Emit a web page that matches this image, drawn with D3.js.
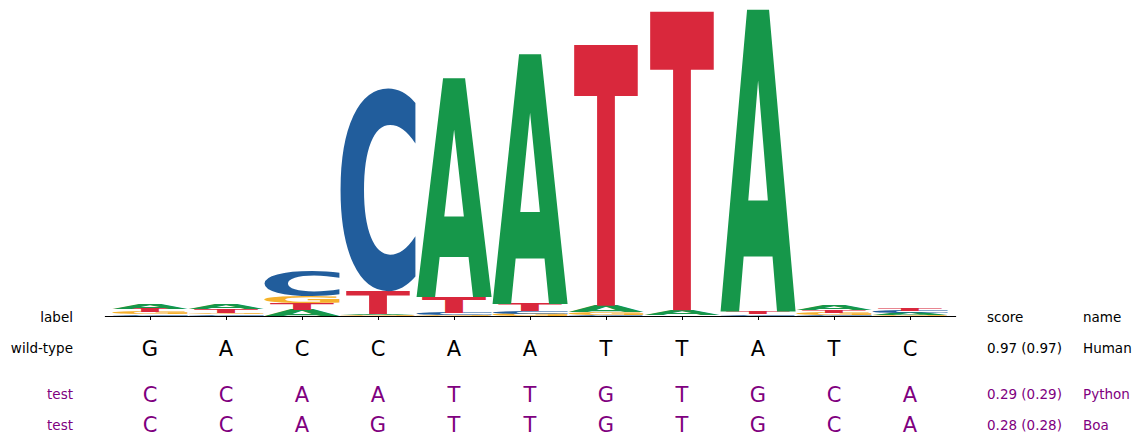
<!DOCTYPE html>
<html>
<head>
<meta charset="utf-8">
<script src="https://cdn.jsdelivr.net/npm/d3@7"></script>
<style>
  body { margin: 0; background: #fff; }
  svg text { font-family: "DejaVu Sans", sans-serif; }
</style>
</head>
<body>
<div id="chart"></div>
<script>
// positions along the motif
var positions = [1, 2, 3, 4, 5, 6, 7, 8, 9, 10, 11]
// letter heights (bits) per position, for A, C, G, T
var heightA = [0.030, 0.030, 0.040, 0.006, 1.431, 1.634, 0.040, 0.033, 1.975, 0.033, 0.013]
var heightC = [0.010, 0.010, 0.163, 1.327, 0.013, 0.020, 0.007, 0.003, 0.007, 0.005, 0.013]
var heightG = [0.013, 0.012, 0.044, 0.005, 0.007, 0.013, 0.020, 0.002, 0.003, 0.013, 0.007]
var heightT = [0.026, 0.025, 0.042, 0.150, 0.105, 0.046, 1.706, 1.954, 0.020, 0.020, 0.020]

// sequences shown under the logo
var rowLabels = ['wild-type', 'test', 'test']
var rowSeqs = ['GACCAATTATC', 'CCAATTGTGCA', 'CCAGTTGTGCA']
var rowScores = ['0.97 (0.97)', '0.29 (0.29)', '0.28 (0.28)']
var rowNames = ['Human', 'Python', 'Boa']

var colors = { A: '#16974a', C: '#215d9c', G: '#f6b12c', T: '#d9283c' }
// T is drawn narrower than the other glyphs
var glyphWidth = { A: 1, C: 1, G: 1, T: 0.85 }

var W = 1142, H = 445
var baseY = 316
var svg = d3.select('#chart').append('svg')
  .attr('width', W)
  .attr('height', H)

var x = d3.scaleLinear().domain([0.4, 11.6]).range([104.4, 955.6])
var y = d3.scaleLinear().domain([0, 2]).range([baseY, baseY - 306])
var step = x(2) - x(1)
var letterW = step * 0.985

// ink bounds of each glyph, found by scanning a canvas
var FS = 400
var cv = document.createElement('canvas')
cv.width = 700
cv.height = 700
var ctx = cv.getContext('2d')
var ink = {}
'ACGT'.split('').forEach(function (ch) {
  ctx.clearRect(0, 0, cv.width, cv.height)
  ctx.font = 'bold ' + FS + 'px "DejaVu Sans"'
  ctx.fillStyle = '#000'
  ctx.fillText(ch, 100, 500)
  var px = ctx.getImageData(0, 0, cv.width, cv.height).data
  var x0 = 1e9, x1 = -1, y0 = 1e9, y1 = -1
  for (var j = 0; j < cv.height; j++) {
    for (var i = 0; i < cv.width; i++) {
      if (px[(j * cv.width + i) * 4 + 3] > 127) {
        if (i < x0) x0 = i
        if (i > x1) x1 = i
        if (j < y0) y0 = j
        if (j > y1) y1 = j
      }
    }
  }
  ink[ch] = { left: 100 - x0, right: x1 + 1 - 100, ascent: 500 - y0, descent: y1 + 1 - 500 }
})

// build stacks: smallest letter at the bottom
var stacks = positions.map(function (p, i) {
  var items = [
    { ch: 'A', v: heightA[i] },
    { ch: 'C', v: heightC[i] },
    { ch: 'G', v: heightG[i] },
    { ch: 'T', v: heightT[i] }
  ].sort(function (a, b) { return a.v - b.v })
  var acc = 0
  items.forEach(function (d) {
    d.y0 = acc
    acc += d.v
    d.y1 = acc
    d.pos = p
  })
  return items
})

var logo = svg.append('g').classed('logo', true)
logo.selectAll('g.col')
  .data(stacks)
  .enter()
  .append('g')
  .attr('class', 'col')
  .selectAll('text')
  .data(function (d) { return d })
  .enter()
  .append('text')
  .attr('font-size', FS)
  .attr('font-weight', 'bold')
  .attr('fill', function (d) { return colors[d.ch] })
  .attr('transform', function (d) {
    var b = ink[d.ch]
    var w = letterW * glyphWidth[d.ch]
    var x0 = x(d.pos) - w / 2
    var top = y(d.y1)
    var h = y(d.y0) - y(d.y1)
    var sx = w / (b.left + b.right)
    var sy = h / (b.ascent + b.descent)
    return 'translate(' + x0 + ',' + top + ') scale(' + sx + ',' + sy + ') translate(' + b.left + ',' + b.ascent + ')'
  })
  .text(function (d) { return d.ch })

// x axis with blank ticks
var xAxis = d3.axisBottom(x)
  .tickValues(positions)
  .tickSize(4)
  .tickSizeOuter(0)
  .tickFormat('')
svg.append('g')
  .attr('transform', 'translate(0,' + baseY + ')')
  .call(xAxis)
  .call(function (g) {
    g.select('.domain').attr('stroke', '#000').attr('stroke-width', 1.2)
    g.selectAll('.tick line').attr('stroke', '#000')
  })

// header row
var header = svg.append('g').attr('font-size', 13.5).attr('fill', '#000')
header.append('text').attr('x', 73).attr('y', 322).attr('text-anchor', 'end').text('label')
header.append('text').attr('x', 987).attr('y', 322).text('score')
header.append('text').attr('x', 1083).attr('y', 322).text('name')

// sequence rows
var labelBase = [353, 399, 430]
var seqBase = [356, 402, 432]
rowSeqs.forEach(function (seq, r) {
  var col = r === 0 ? '#000' : '#800080'
  var g = svg.append('g').attr('fill', col)
  g.append('text').attr('x', 73).attr('y', labelBase[r]).attr('text-anchor', 'end')
    .attr('font-size', 13.5).text(rowLabels[r])
  g.selectAll('text.seq')
    .data(seq.split(''))
    .enter()
    .append('text')
    .attr('class', 'seq')
    .attr('x', function (d, i) { return x(positions[i]) })
    .attr('y', seqBase[r])
    .attr('text-anchor', 'middle')
    .attr('font-size', 21)
    .text(function (d) { return d })
  g.append('text').attr('x', 987).attr('y', labelBase[r]).attr('font-size', 13.5).text(rowScores[r])
  g.append('text').attr('x', 1083).attr('y', labelBase[r]).attr('font-size', 13.5).text(rowNames[r])
})
</script>
</body>
</html>
